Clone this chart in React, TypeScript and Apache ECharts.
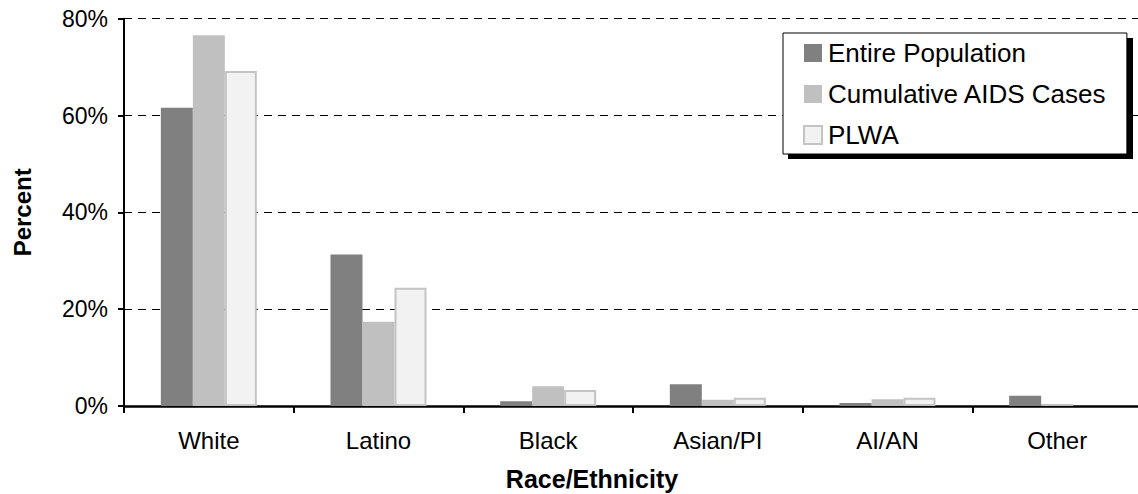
import React, { useEffect, useRef } from "react";
import * as echarts from "echarts";

const categories = ["White", "Latino", "Black", "Asian/PI", "AI/AN", "Other"];
const entirePopulation = [61.6, 31.3, 1.0, 4.5, 0.6, 2.1];
const cumulativeAids = [76.6, 17.4, 4.1, 1.3, 1.4, 0.4];
const plwa = [69.2, 24.4, 3.3, 1.7, 1.7, 0];
const yTicks = [0, 20, 40, 60, 80];

const FONT = "'Liberation Sans', Arial, sans-serif";

export default function App() {
  const ref = useRef<HTMLDivElement>(null);

  useEffect(() => {
    if (!ref.current) return;
    const chart = echarts.init(ref.current, undefined, { renderer: "svg" });
    chart.setOption({
      animation: false,
      backgroundColor: "#ffffff",
      textStyle: { fontFamily: FONT },
      grid: {
        left: 124,
        right: -4,
        top: 18.7,
        bottom: 88,
        containLabel: false,
        outerBoundsMode: "none",
      },
      legend: {
        orient: "vertical",
        left: 783,
        top: 33,
        itemWidth: 18,
        itemHeight: 18,
        itemGap: 15,
        padding: [7, 20, 6, 20],
        backgroundColor: "#ffffff",
        borderColor: "#000000",
        borderWidth: 1,
        icon: "rect",
        z: 10,
        textStyle: {
          fontFamily: FONT,
          fontSize: 26,
          lineHeight: 26,
          color: "#000",
          padding: [0, 0, 0, 1],
        },
        data: ["Entire Population", "Cumulative AIDS Cases", "PLWA"],
      },
      graphic: [
        {
          // drop shadow behind the legend box
          type: "rect",
          z: 5,
          shape: { x: 788, y: 38, width: 345, height: 121 },
          style: { fill: "#000000" },
        },
      ],
      xAxis: {
        type: "category",
        data: categories,
        name: "Race/Ethnicity",
        nameLocation: "middle",
        nameGap: 60,
        nameTextStyle: {
          fontFamily: FONT,
          fontSize: 25,
          fontWeight: "bold",
          color: "#000",
          padding: [0, 82, 0, 0],
        },
        axisLine: { lineStyle: { color: "#000", width: 2.5 } },
        axisTick: { show: true, length: 7, lineStyle: { color: "#000", width: 2 } },
        axisLabel: { fontFamily: FONT, fontSize: 24, color: "#000", margin: 22 },
      },
      yAxis: {
        type: "value",
        min: 0,
        max: 80,
        interval: 20,
        name: "Percent",
        nameLocation: "middle",
        nameGap: 90,
        nameTextStyle: { fontFamily: FONT, fontSize: 24, fontWeight: "bold", color: "#000" },
        axisLine: { show: true, lineStyle: { color: "#000", width: 2 } },
        axisTick: { show: true, inside: false, length: 6, lineStyle: { color: "#000", width: 2 } },
        axisLabel: {
          fontFamily: FONT,
          fontSize: 23,
          color: "#000",
          margin: 16,
          formatter: (v: number) => (yTicks.includes(v) ? `${v}%` : ""),
        },
        splitLine: { show: true, lineStyle: { color: "#000", width: 1, type: [8, 6] } },
      },
      series: [
        {
          name: "Entire Population",
          type: "bar",
          data: entirePopulation,
          barWidth: 32,
          barGap: "0%",
          itemStyle: { color: "#808080" },
        },
        {
          name: "Cumulative AIDS Cases",
          type: "bar",
          data: cumulativeAids,
          barWidth: 32,
          barGap: "0%",
          itemStyle: { color: "#c0c0c0" },
        },
        {
          name: "PLWA",
          type: "bar",
          data: plwa.map((v) => (v > 0 ? v : { value: v, itemStyle: { borderWidth: 0 } })),
          barWidth: 32,
          barGap: "0%",
          itemStyle: { color: "#f2f2f2", borderColor: "#c4c4c4", borderWidth: 2 },
        },
      ],
    });
    return () => chart.dispose();
  }, []);

  return (
    <div
      ref={ref}
      style={{ position: "absolute", left: 0, top: 0, width: 1138, height: 494 }}
    />
  );
}
